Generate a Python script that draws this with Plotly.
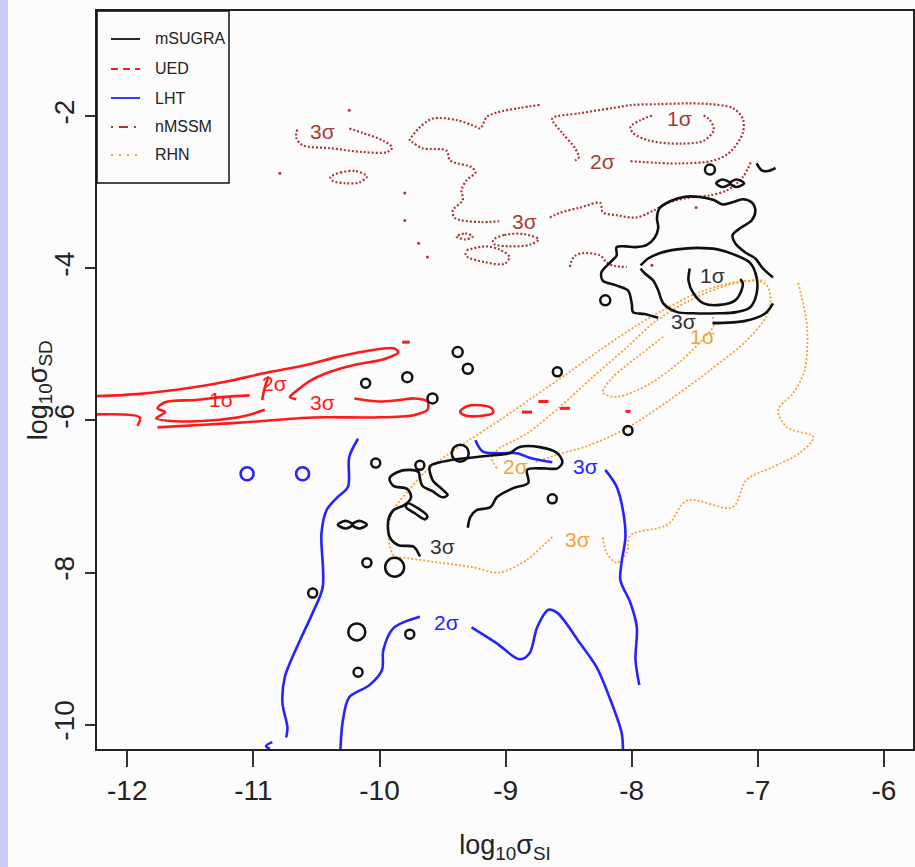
import plotly.graph_objects as go

# ---------------- axis ticks ----------------
x_tick_vals = [-12, -11, -10, -9, -8, -7, -6]
x_tick_text = ["-12", "-11", "-10", "-9", "-8", "-7", "-6"]
y_tick_vals = [-2, -4, -6, -8, -10]
y_tick_text = ["-2", "-4", "-6", "-8", "-10"]

# ---------------- UED (red) ----------------
ued_3s_upper_x = [-12.24, -11.90, -11.50, -11.19, -10.92, -10.58, -10.35, -10.11, -9.89, -9.85, -9.96, -10.20, -10.39, -10.54, -10.65, -10.71, -10.66]
ued_3s_upper_y = [-5.68, -5.65, -5.57, -5.48, -5.38, -5.27, -5.17, -5.09, -5.05, -5.10, -5.19, -5.27, -5.36, -5.47, -5.60, -5.69, -5.72]
ued_tail_x = [-12.24, -11.90, -11.92]
ued_tail_y = [-5.92, -5.96, -6.07]
ued_3s_lower_x = [-11.76, -11.43, -11.03, -10.53, -10.05, -9.73, -9.62, -9.62, -9.72, -9.84, -10.00, -10.20]
ued_3s_lower_y = [-6.09, -6.06, -6.02, -5.96, -5.96, -5.93, -5.86, -5.75, -5.71, -5.73, -5.75, -5.71]
ued_2s_x = [-11.03, -11.23, -11.46, -11.70, -11.76, -11.70, -11.77, -11.62, -11.35, -11.07, -10.91]
ued_2s_y = [-5.67, -5.69, -5.73, -5.76, -5.84, -5.89, -5.97, -6.01, -6.00, -5.94, -5.86]
ued_slash_x = [-10.93, -10.91, -10.88]
ued_slash_y = [-5.73, -5.57, -5.42]
ued_blob_x = [-9.36, -9.30, -9.20, -9.11, -9.10, -9.20, -9.33, -9.36]
ued_blob_y = [-5.88, -5.81, -5.80, -5.84, -5.90, -5.94, -5.93, -5.88]
ued_bits_x = [-8.87, -8.79, None, -8.74, -8.66, None, -8.57, -8.49, None, -8.05, -8.01, None, -9.82, -9.76]
ued_bits_y = [-5.89, -5.89, None, -5.75, -5.75, None, -5.84, -5.84, None, -5.88, -5.88, None, -4.97, -4.97]
ued_lab_text = ["1σ", "2σ", "3σ"]
ued_lab_x = [-11.25, -10.83, -10.45]
ued_lab_y = [-5.73, -5.51, -5.76]

# ---------------- mSUGRA (black) ----------------
ms_top3_x = [-6.88, -6.96, -7.02, -7.10, -7.18, -7.20, -7.13, -7.05, -7.02, -7.05, -7.12, -7.20, -7.28, -7.35, -7.46, -7.59, -7.70, -7.78, -7.80, -7.79, -7.82, -7.88, -7.97, -8.05, -8.12, -8.12, -8.17, -8.24, -8.23, -8.13, -8.03, -8.00, -7.99, -7.90, -7.79]
ms_top3_y = [-4.12, -4.00, -3.87, -3.79, -3.67, -3.56, -3.46, -3.37, -3.24, -3.13, -3.09, -3.13, -3.16, -3.10, -3.06, -3.06, -3.12, -3.21, -3.34, -3.47, -3.60, -3.69, -3.72, -3.71, -3.72, -3.83, -3.92, -4.05, -4.16, -4.22, -4.29, -4.46, -4.575, -4.60, -4.65]
ms_top3b_x = [-7.36, -7.10, -6.94, -6.88]
ms_top3b_y = [-4.72, -4.69, -4.59, -4.46]
ms_top2_x = [-7.93, -7.87, -7.78, -7.64, -7.48, -7.32, -7.17, -7.06, -7.01, -7.01, -7.06, -7.17, -7.32, -7.51, -7.64, -7.75, -7.79, -7.83, -7.90, -7.93]
ms_top2_y = [-3.96, -3.87, -3.80, -3.75, -3.73, -3.75, -3.83, -3.93, -4.12, -4.33, -4.51, -4.575, -4.59, -4.59, -4.575, -4.46, -4.29, -4.16, -4.06, -4.00]
ms_top1_x = [-7.54, -7.55, -7.51, -7.43, -7.30, -7.18, -7.13, -7.12, -7.14]
ms_top1_y = [-4.00, -4.16, -4.33, -4.46, -4.48, -4.42, -4.29, -4.19, -4.14]
ms_eight_x = [-7.33, -7.28, -7.22, -7.28, -7.33, None, -7.22, -7.17, -7.11, -7.17, -7.22]
ms_eight_y = [-2.88, -2.83, -2.88, -2.93, -2.88, None, -2.88, -2.83, -2.88, -2.93, -2.88]
ms_arc_x = [-7.01, -6.97, -6.92, -6.86]
ms_arc_y = [-2.62, -2.71, -2.72, -2.68]
ms_mid3_x = [-9.30, -9.28, -9.23, -9.12, -9.07, -8.94, -8.82, -8.83, -8.70, -8.59, -8.55, -8.59, -8.73, -8.89, -8.97, -9.05, -9.18, -9.39, -9.52, -9.60, -9.58, -9.50, -9.46, -9.50, -9.58, -9.66, -9.68, -9.69, -9.76, -9.86, -9.92, -9.89, -9.78, -9.75, -9.80, -9.89, -9.93, -9.92, -9.85, -9.73, -9.68]
ms_mid3_y = [-7.41, -7.27, -7.18, -7.14, -7.01, -6.89, -6.82, -6.65, -6.63, -6.63, -6.55, -6.43, -6.35, -6.35, -6.43, -6.45, -6.47, -6.51, -6.55, -6.60, -6.78, -6.91, -6.98, -7.01, -6.93, -6.86, -6.76, -6.68, -6.65, -6.68, -6.76, -6.86, -6.90, -7.01, -7.11, -7.18, -7.31, -7.53, -7.64, -7.66, -7.79]
ms_slant_x = [-9.78, -9.69, -9.62, -9.64, -9.72, -9.79, -9.78]
ms_slant_y = [-7.09, -7.16, -7.26, -7.30, -7.22, -7.14, -7.09]
ms_double_x = [-10.33, -10.27, -10.21, -10.27, -10.33, None, -10.22, -10.16, -10.10, -10.16, -10.22]
ms_double_y = [-7.37, -7.32, -7.37, -7.42, -7.37, None, -7.37, -7.32, -7.37, -7.42, -7.37]
ms_circ_x = [-9.38, -9.30, -9.78, -10.11, -9.58, -8.59, -8.03, -9.68, -10.03, -8.63, -10.10, -9.76, -10.17, -10.53, -7.38, -8.21, -9.36, -9.88, -10.18]
ms_circ_y = [-5.10, -5.32, -5.43, -5.51, -5.71, -5.36, -6.13, -6.59, -6.56, -7.03, -7.87, -8.81, -9.31, -8.27, -2.70, -4.42, -6.43, -7.93, -8.78]
ms_circ_d = [10, 10, 10, 9, 10, 9, 9, 9, 9, 9, 9, 9, 9, 9, 10, 10, 17, 19, 17]
ms_lab_text = ["1σ", "3σ", "3σ"]
ms_lab_x = [-7.36, -7.59, -9.50]
ms_lab_y = [-4.09, -4.70, -7.66]

# ---------------- LHT (blue) ----------------
lht_left_x = [-10.17, -10.24, -10.25, -10.34, -10.42, -10.46, -10.45, -10.53, -10.63, -10.75, -10.77, -10.73, -10.74]
lht_left_y = [-6.24, -6.48, -6.87, -7.02, -7.18, -7.48, -8.19, -8.53, -8.89, -9.37, -9.71, -10.04, -10.17]
lht_foot_x = [-10.85, -10.90, -10.87]
lht_foot_y = [-10.23, -10.28, -10.32]
lht_2s_a_x = [-9.68, -9.89, -9.97, -9.98, -10.08, -10.24, -10.29, -10.31]
lht_2s_a_y = [-8.58, -8.73, -9.02, -9.28, -9.48, -9.64, -9.94, -10.32]
lht_2s_b_x = [-9.27, -9.07, -8.89, -8.81, -8.75, -8.66, -8.59, -8.41, -8.28, -8.17, -8.08, -8.07]
lht_2s_b_y = [-8.72, -8.93, -9.14, -9.06, -8.72, -8.49, -8.53, -8.93, -9.24, -9.67, -10.11, -10.32]
lht_right_x = [-8.21, -8.12, -8.07, -8.05, -8.08, -8.09, -8.01, -7.96, -7.97, -7.94]
lht_right_y = [-6.65, -6.87, -7.18, -7.53, -7.86, -8.10, -8.40, -8.72, -9.15, -9.48]
lht_3s_x = [-9.24, -9.18, -9.05, -8.91, -8.81, -8.63]
lht_3s_y = [-6.26, -6.41, -6.43, -6.43, -6.49, -6.55]
lht_circ_x = [-11.05, -10.61]
lht_circ_y = [-6.70, -6.70]
lht_lab_text = ["3σ", "2σ"]
lht_lab_x = [-8.37, -9.47]
lht_lab_y = [-6.61, -8.66]

# ---------------- nMSSM (brown) ----------------
nm_1s_x = [-7.84, -7.93, -8.01, -7.99, -7.86, -7.62, -7.43, -7.35, -7.38, -7.43]
nm_1s_y = [-1.99, -2.05, -2.14, -2.22, -2.32, -2.36, -2.32, -2.18, -2.05, -1.99]
nm_2s_x = [-8.01, -7.62, -7.35, -7.22, -7.12, -7.12, -7.20, -7.38, -7.54, -7.78, -7.99, -8.15, -8.41, -8.63, -8.55, -8.45, -8.42, -8.45]
nm_2s_y = [-2.59, -2.62, -2.58, -2.47, -2.22, -2.03, -1.89, -1.84, -1.83, -1.84, -1.85, -1.89, -1.96, -2.03, -2.22, -2.42, -2.54, -2.58]
nm_3s_left_x = [-10.24, -10.13, -9.97, -9.90, -9.94, -10.13, -10.39, -10.61, -10.66, -10.65]
nm_3s_left_y = [-2.16, -2.22, -2.32, -2.41, -2.47, -2.47, -2.42, -2.38, -2.28, -2.16]
nm_3s_mid_x = [-8.73, -8.89, -9.07, -9.15, -9.20, -9.23, -9.39, -9.58, -9.69, -9.76, -9.74, -9.66, -9.47, -9.44, -9.27, -9.24, -9.31, -9.35, -9.34, -9.42, -9.40, -9.20, -9.05]
nm_3s_mid_y = [-1.85, -1.89, -1.95, -2.01, -2.16, -2.14, -2.05, -2.03, -2.16, -2.32, -2.34, -2.42, -2.45, -2.58, -2.67, -2.74, -2.84, -2.97, -3.10, -3.24, -3.34, -3.39, -3.38]
nm_3s_right_x = [-8.65, -8.57, -8.41, -8.25, -8.23, -8.12, -7.96, -7.83, -7.70, -7.51, -7.38, -7.24, -7.12, -7.05]
nm_3s_right_y = [-3.33, -3.27, -3.20, -3.14, -3.26, -3.30, -3.33, -3.24, -3.13, -3.06, -3.04, -2.97, -2.80, -2.58]
nm_ell1_x = [-10.39, -10.31, -10.19, -10.10, -10.16, -10.27, -10.37, -10.39]
nm_ell1_y = [-2.80, -2.74, -2.72, -2.79, -2.87, -2.88, -2.85, -2.80]
nm_ell2_x = [-9.10, -9.01, -8.85, -8.74, -8.81, -8.97, -9.09, -9.10]
nm_ell2_y = [-3.63, -3.56, -3.55, -3.62, -3.69, -3.71, -3.68, -3.63]
nm_loop_x = [-9.31, -9.16, -9.05, -8.97, -9.01, -9.16, -9.31, -9.32]
nm_loop_y = [-3.76, -3.71, -3.75, -3.85, -3.94, -3.92, -3.84, -3.77]
nm_small_x = [-9.39, -9.32, -9.26, -9.32, -9.39]
nm_small_y = [-3.58, -3.54, -3.58, -3.62, -3.58]
nm_arc_x = [-8.49, -8.46, -8.39, -8.25, -8.20, -8.13, -8.04]
nm_arc_y = [-3.98, -3.85, -3.80, -3.83, -3.92, -3.97, -3.98]
nm_speck_x = [-9.80, -9.80, -9.69, -9.62, -10.24, -10.79, -7.49, -7.84]
nm_speck_y = [-3.01, -3.37, -3.67, -3.85, -1.92, -2.75, -3.20, -3.96]
nm_lab_text = ["3σ", "1σ", "2σ", "3σ"]
nm_lab_x = [-10.45, -7.62, -8.23, -8.85]
nm_lab_y = [-2.20, -2.03, -2.60, -3.38]

# ---------------- RHN (orange) ----------------
rhn_1s_x = [-7.75, -7.96, -8.15, -8.23, -8.12, -7.86, -7.62, -7.43, -7.35, -7.36]
rhn_1s_y = [-4.90, -5.17, -5.43, -5.63, -5.69, -5.52, -5.23, -4.92, -4.75, -4.62]
rhn_2s_x = [-9.07, -9.11, -9.07, -8.83, -8.57, -8.31, -8.04, -7.83, -7.54, -7.24, -7.02, -6.93, -6.90, -6.93, -7.09, -7.38, -7.70, -8.04, -8.36, -8.57, -8.77]
rhn_2s_y = [-6.63, -6.49, -6.39, -6.17, -5.82, -5.43, -5.04, -4.72, -4.42, -4.22, -4.16, -4.22, -4.38, -4.62, -4.95, -5.34, -5.73, -6.10, -6.34, -6.44, -6.55]
rhn_3s_a_x = [-8.63, -8.70, -8.83, -9.05, -9.26, -9.52, -9.78, -9.89, -9.93, -9.89, -9.78, -9.62, -9.31, -9.05, -8.78, -8.51, -8.25, -7.96, -7.78, -7.46, -7.14, -6.94]
rhn_3s_a_y = [-7.53, -7.64, -7.83, -8.00, -7.93, -7.87, -7.81, -7.77, -7.44, -7.18, -6.94, -6.65, -6.28, -6.00, -5.69, -5.38, -5.07, -4.75, -4.575, -4.31, -4.17, -4.16]
rhn_3s_b_x = [-6.68, -6.61, -6.63, -6.72, -6.84, -6.77, -6.56, -6.67, -6.88, -7.09, -7.20, -7.56, -7.70, -7.78, -8.01, -8.04, -8.12, -8.20, -8.23]
rhn_3s_b_y = [-4.19, -4.77, -5.34, -5.64, -5.86, -6.09, -6.22, -6.43, -6.61, -6.78, -7.14, -7.05, -7.35, -7.41, -7.51, -7.74, -7.87, -7.74, -7.53]
rhn_lab_text = ["1σ", "2σ", "3σ"]
rhn_lab_x = [-7.44, -8.92, -8.43]
rhn_lab_y = [-4.90, -6.61, -7.56]

# ---------------- legend ----------------
legend_names = ["mSUGRA", "UED", "LHT", "nMSSM", "RHN"]

# ---------------- styles ----------------
BLACK = "#111111"
RED = "#ff1a1a"
BLUE = "#2424ff"
BROWN = "#a83a3a"
ORANGE = "#f2a43a"
FONT = "Liberation Sans, Arial, sans-serif"
BG = "#fcfcfc"

fig = go.Figure()


def path(x, y, color, width, dash="solid", shape="spline"):
    fig.add_trace(go.Scatter(x=x, y=y, mode="lines", hoverinfo="skip",
                             line=dict(color=color, width=width, dash=dash,
                                       shape=shape, smoothing=0.9)))


# UED
for px_, py_ in [(ued_3s_upper_x, ued_3s_upper_y), (ued_tail_x, ued_tail_y),
                 (ued_3s_lower_x, ued_3s_lower_y), (ued_2s_x, ued_2s_y),
                 (ued_slash_x, ued_slash_y), (ued_blob_x, ued_blob_y)]:
    path(px_, py_, RED, 2.6)
path(ued_bits_x, ued_bits_y, RED, 3, shape="linear")

# RHN
for px_, py_ in [(rhn_1s_x, rhn_1s_y), (rhn_2s_x, rhn_2s_y),
                 (rhn_3s_a_x, rhn_3s_a_y), (rhn_3s_b_x, rhn_3s_b_y)]:
    path(px_, py_, ORANGE, 1.8, dash="2px,2px")

# nMSSM
for px_, py_ in [(nm_1s_x, nm_1s_y), (nm_2s_x, nm_2s_y), (nm_3s_left_x, nm_3s_left_y),
                 (nm_3s_mid_x, nm_3s_mid_y), (nm_3s_right_x, nm_3s_right_y),
                 (nm_ell1_x, nm_ell1_y), (nm_ell2_x, nm_ell2_y), (nm_loop_x, nm_loop_y),
                 (nm_small_x, nm_small_y), (nm_arc_x, nm_arc_y)]:
    path(px_, py_, BROWN, 2.2, dash="2px,2px")
fig.add_trace(go.Scatter(x=nm_speck_x, y=nm_speck_y, mode="markers", hoverinfo="skip",
                         marker=dict(symbol="circle", size=3, color=BROWN)))

# LHT
for px_, py_ in [(lht_left_x, lht_left_y), (lht_foot_x, lht_foot_y),
                 (lht_2s_a_x, lht_2s_a_y), (lht_2s_b_x, lht_2s_b_y),
                 (lht_right_x, lht_right_y), (lht_3s_x, lht_3s_y)]:
    path(px_, py_, BLUE, 2.6)
fig.add_trace(go.Scatter(x=lht_circ_x, y=lht_circ_y, mode="markers", hoverinfo="skip",
                         marker=dict(symbol="circle", size=13, color="rgba(0,0,0,0)", opacity=1,
                                     line=dict(color=BLUE, width=2.6))))

# mSUGRA
for px_, py_ in [(ms_top3_x, ms_top3_y), (ms_top3b_x, ms_top3b_y), (ms_top2_x, ms_top2_y),
                 (ms_top1_x, ms_top1_y), (ms_eight_x, ms_eight_y), (ms_arc_x, ms_arc_y),
                 (ms_mid3_x, ms_mid3_y), (ms_slant_x, ms_slant_y), (ms_double_x, ms_double_y)]:
    path(px_, py_, BLACK, 2.6)
fig.add_trace(go.Scatter(x=ms_circ_x, y=ms_circ_y, mode="markers", hoverinfo="skip",
                         marker=dict(symbol="circle", size=ms_circ_d, color="rgba(0,0,0,0)", opacity=1,
                                     line=dict(color=BLACK, width=2.5))))

# contour labels
annotations = []
for texts, xs, ys, col in [(ued_lab_text, ued_lab_x, ued_lab_y, RED),
                           (nm_lab_text, nm_lab_x, nm_lab_y, BROWN),
                           (ms_lab_text, ms_lab_x, ms_lab_y, "#333333"),
                           (rhn_lab_text, rhn_lab_x, rhn_lab_y, ORANGE),
                           (lht_lab_text, lht_lab_x, lht_lab_y, BLUE)]:
    for t, xv, yv in zip(texts, xs, ys):
        annotations.append(dict(x=xv, y=yv, xref="x", yref="y", text=t, showarrow=False,
                                font=dict(family=FONT, size=21, color=col)))

# manual legend (paper coordinates)
plot_w, plot_h = 816.0, 738.0
row_px = [28, 58, 87, 116, 144]
legend_styles = [(BLACK, "solid"), (RED, "7px,5px"), (BLUE, "solid"),
                 (BROWN, "2px,6px,9px,6px"), (ORANGE, "2px,6px")]
shapes = [
    dict(type="rect", xref="paper", yref="paper", x0=0, x1=132 / plot_w,
         y0=1 - 172 / plot_h, y1=1, line=dict(color="#111111", width=1.5), fillcolor=BG, layer="above"),
    dict(type="rect", xref="paper", yref="paper", x0=-97 / plot_w, x1=-89 / plot_w,
         y0=-0.2, y1=1.1, line=dict(width=0), fillcolor="#c9c9f7", layer="below"),
]
for name, rp, (col, dsh) in zip(legend_names, row_px, legend_styles):
    yp = 1 - rp / plot_h
    shapes.append(dict(type="line", xref="paper", yref="paper", x0=14 / plot_w, x1=43 / plot_w,
                       y0=yp, y1=yp, line=dict(color=col, width=1.8, dash=dsh), layer="above"))
    annotations.append(dict(x=56 / plot_w, y=yp, xref="paper", yref="paper", text=name,
                            showarrow=False, xanchor="left", yanchor="middle",
                            font=dict(family=FONT, size=16, color="#222222")))

# y-axis title placed as rotated annotation
annotations.append(dict(x=-57 / plot_w, y=0.486, xref="paper", yref="paper",
                        text="log<sub>10</sub>σ<sub>SD</sub>", textangle=-90, showarrow=False,
                        xanchor="center", yanchor="middle",
                        font=dict(family=FONT, size=27, color="#222222")))

fig.update_layout(
    width=915, height=867,
    margin=dict(l=97, r=2, t=11, b=118, autoexpand=False),
    paper_bgcolor=BG, plot_bgcolor=BG,
    showlegend=False,
    shapes=shapes, annotations=annotations,
    font=dict(family=FONT, color="#222222"),
)
fig.update_xaxes(range=[-12.24, -5.77], tickvals=x_tick_vals, ticktext=x_tick_text,
                 ticks="outside", ticklen=16, tickwidth=1.5, tickcolor="#333333",
                 showline=True, mirror=True, linewidth=1.5, linecolor="#222222",
                 showgrid=False, zeroline=False, tickfont=dict(size=28, family=FONT),
                 title=dict(text="log<sub>10</sub>σ<sub>SI</sub>", font=dict(size=27, family=FONT), standoff=30))
fig.update_yaxes(range=[-10.32, -0.615], tickvals=y_tick_vals, ticktext=y_tick_text,
                 ticks="outside", ticklen=10, tickwidth=1.5, tickcolor="#333333", tickangle=-90,
                 showline=True, mirror=True, linewidth=1.5, linecolor="#222222",
                 showgrid=False, zeroline=False, tickfont=dict(size=28, family=FONT))

fig.write_html("out.html")
